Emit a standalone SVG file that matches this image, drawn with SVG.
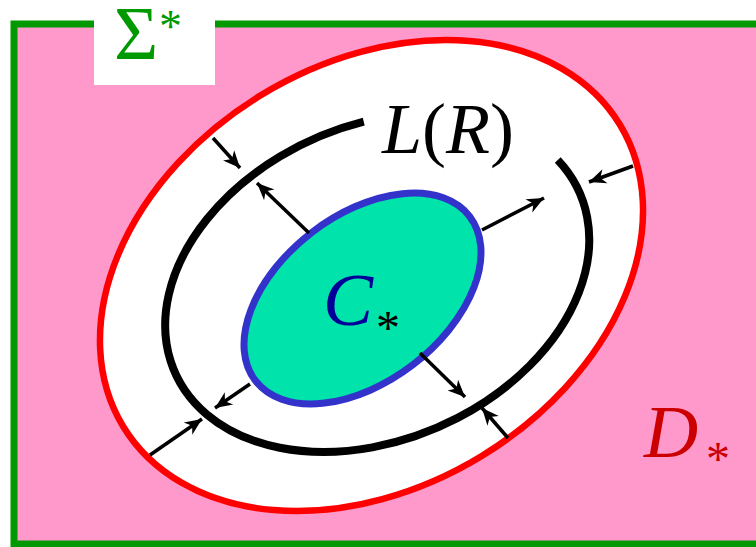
<svg xmlns="http://www.w3.org/2000/svg" width="756" height="547" viewBox="0 0 756 547">
<style>
.ser{font-family:"Liberation Serif","Times New Roman",serif}
.it{font-style:italic}
.arr{stroke:#000;stroke-width:3.5;fill:none;marker-end:url(#ah)}
</style>
<defs>
<marker id="ah" markerUnits="userSpaceOnUse" markerWidth="22" markerHeight="18" viewBox="-18 -9 20 18" refX="0" refY="0" orient="auto">
<path d="M0,0 L-17,-7.5 L-12,0 L-17,7.5 Z" fill="#000"/>
</marker>
</defs>
<rect x="0" y="0" width="756" height="547" fill="#fff"/>
<g id="sigma-star">
<rect x="14" y="24" width="760" height="520" fill="#FF99CC" stroke="#009900" stroke-width="7"/>
<rect x="94" y="0" width="121" height="85" fill="#fff"/>
<text class="ser" x="114" y="59" font-size="76" fill="#009900">Σ</text>
<text class="ser" x="159" y="42" font-size="46" fill="#009900">*</text>
</g>
<g id="d-star">
<ellipse cx="371.5" cy="275.5" rx="290.6" ry="211.5" transform="rotate(-31.3 371.5 275.5)" fill="#fff" stroke="#FF0000" stroke-width="6.5"/>
<text class="ser it" x="644" y="457" font-size="75" fill="#CC0000">D</text>
<text class="ser" x="706" y="475" font-size="48" fill="#CC0000">*</text>
</g>
<g id="l-r">
<path transform="translate(377 282.5) rotate(-24.1)" d="M215,-38 A221.4,157 0 1 1 53.6,-152.3" fill="none" stroke="#000" stroke-width="8"/>
<text class="ser" x="382" y="153" font-size="72" fill="#000"><tspan class="it">L</tspan>(<tspan class="it">R</tspan>)</text>
</g>
<g id="c-star">
<ellipse cx="362.5" cy="298.5" rx="135" ry="83.3" transform="rotate(-37.5 362.5 298.5)" fill="#00E3AA" stroke="#3333CC" stroke-width="7"/>
<text class="ser it" x="323" y="325" font-size="75" fill="#000099">C</text>
<text class="ser" x="376" y="344" font-size="48" fill="#000">*</text>
</g>
<g id="connectors">
<line class="arr" x1="213" y1="138" x2="240" y2="168"/>
<line class="arr" x1="309" y1="233" x2="257" y2="183"/>
<line class="arr" x1="482" y1="230" x2="544" y2="198"/>
<line class="arr" x1="633" y1="166" x2="589" y2="182"/>
<line class="arr" x1="420" y1="353" x2="465" y2="397"/>
<line class="arr" x1="508" y1="438" x2="482" y2="408"/>
<line class="arr" x1="250" y1="384" x2="215" y2="408"/>
<line class="arr" x1="150" y1="455" x2="202" y2="419"/>
</g>
</svg>
